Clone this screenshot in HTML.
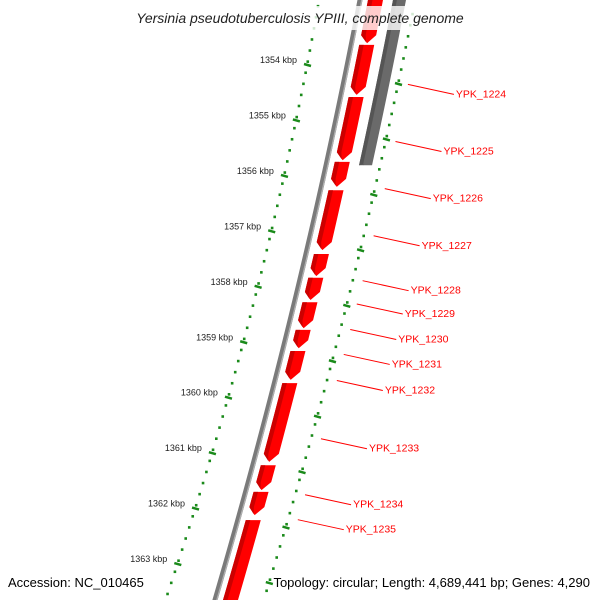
<!DOCTYPE html>
<html><head><meta charset="utf-8"><style>
html,body{margin:0;padding:0;background:#fff;}
svg{display:block;font-family:"Liberation Sans","DejaVu Sans",sans-serif;}
</style></head><body>
<svg id="map" width="600" height="600" viewBox="0 0 600 600">
<g id="ticks"></g>
<g id="backbone"></g>
<g id="genes"></g>
<g id="labels"></g>
<rect x="118" y="6" width="364" height="24" fill="#fff" fill-opacity="0.8"/>
<text x="300" y="23" text-anchor="middle" font-size="14" font-style="italic" fill="#222">Yersinia pseudotuberculosis YPIII, complete genome</text>
<text x="8" y="587" font-size="13" fill="#000">Accession: NC_010465</text>
<text x="590" y="587" font-size="13" fill="#000" text-anchor="end">Topology: circular; Length: 4,689,441 bp; Genes: 4,290</text>
</svg>
<script>
const kbpLabels = [1354,1355,1356,1357,1358,1359,1360,1361,1362,1363];
const fwdStarts = [1352.82,1353.81,1354.75,1355.92,1356.43,1357.58,1358.01,1358.45,1358.95,1359.33,1359.91,1361.39,1361.87,1362.38];
const fwdEnds   = [1353.78,1354.71,1355.89,1356.37,1357.51,1357.98,1358.41,1358.92,1359.28,1359.85,1361.33,1361.84,1362.29,1364.0];
const revStarts = [1352.64];
const revEnds   = [1355.98];
const geneNames = ["YPK_1224","YPK_1225","YPK_1226","YPK_1227","YPK_1228","YPK_1229","YPK_1230","YPK_1231","YPK_1232","YPK_1233","YPK_1234","YPK_1235"];
const geneLabelKbp = [1354.44,1355.47,1356.32,1357.17,1357.98,1358.40,1358.86,1359.31,1359.78,1360.83,1361.84,1362.29];

const NS="http://www.w3.org/2000/svg";
function mk(t,a,p){const e=document.createElementNS(NS,t);for(const k in a)e.setAttribute(k,a[k]);p.appendChild(e);return e;}
// axis functions
const yLabel = k => 60 + (k-1354)*55.45;
const yGene = k => (k-1353)*55.45;
const grayX = y => 360 - 0.1917*y - 8.33e-5*y*y;
const leftX = y => 307 - 0.1929*(y-65) - 1.342e-4*(y-65)*(y-65);
const rightX = y => 398 - 0.2125*(y-84) - 9.28e-5*(y-84)*(y-84);

const ticks=document.getElementById('ticks');
// dotted rings
for(let y=-5;y<=605;y+=11.09){
  const d=mk('rect',{x:leftX(y)-1.2,y:y-1.2,width:2.6,height:2.6,fill:'#1a8a1a'},ticks);
  
  
  if(y<592){const d2=mk('rect',{x:rightX(y+19)-1.2,y:y+19-1.2,width:2.6,height:2.6,fill:'#1a8a1a'},ticks);
  
  }
}
kbpLabels.forEach(k=>{
  const y=yLabel(k);
  const t=mk('line',{x1:leftX(y+5)-3,y1:y+4,x2:leftX(y+5)+4,y2:y+6,stroke:'#1a8a1a','stroke-width':2.5},ticks);
  
  
  const t2=mk('line',{x1:rightX(y+24)-3,y1:y+23,x2:rightX(y+24)+4,y2:y+25,stroke:'#1a8a1a','stroke-width':2.5},ticks);
  
  
  const tx=mk('text',{x:leftX(y+5)-10,y:y+3,'font-size':9,'text-anchor':'end',fill:'#222'},ticks);
  tx.textContent=k+' kbp';
  
  
});
// backbone
const bb=document.getElementById('backbone');
let pts=[];for(let y=-5;y<=605;y+=5)pts.push(grayX(y)+','+y);
const l1=mk('polyline',{points:pts.join(' '),fill:'none',stroke:'#7a7a7a','stroke-width':5},bb);


pts=[];for(let y=-5;y<=605;y+=5)pts.push((grayX(y)+1.8)+','+y);
mk('polyline',{points:pts.join(' '),fill:'none',stroke:'#b0b0b0','stroke-width':1.3},bb);

function gene(y0,y1,o1,o2,fill,dark,arrow,g,name){
  const grp=mk('g',{},g);
  
  
  const a=Math.min(arrow,(y1-y0)*0.5);
  const left=[],right=[];
  for(let y=y0;y<=y1-a;y+=4){left.push([grayX(y)+o1,y]);right.push([grayX(y)+o2,y]);}
  const yb=y1-a;left.push([grayX(yb)+o1,yb]);right.push([grayX(yb)+o2,yb]);
  const tip=[grayX(y1)+(o1+o2)/2,y1];
  const poly=left.concat([tip]).concat(right.reverse());
  mk('polygon',{points:poly.map(p=>p.join(',')).join(' '),fill:fill},grp);
  // dark shading on left third
  const sl=[],sr=[];
  for(let y=y0;y<=yb;y+=4){sl.push([grayX(y)+o1,y]);sr.push([grayX(y)+o1+(o2-o1)*0.3,y]);}
  sl.push([grayX(yb)+o1,yb]);sr.push([grayX(yb)+o1+(o2-o1)*0.3,yb]);
  mk('polygon',{points:sl.concat([[tip[0]-1,y1-1]]).concat(sr.reverse()).map(p=>p.join(',')).join(' '),fill:dark},grp);
}
const gg=document.getElementById('genes');
revStarts.forEach((s,i)=>gene(yGene(s),yGene(revEnds[i]),33,46,'#6a6a6a','#555',0,gg,'reverse-gene'));
fwdStarts.forEach((s,i)=>gene(yGene(s),yGene(fwdEnds[i]),8,23,'#ff0000','#cc0000',8,gg,'forward-gene'));
// labels
const lg=document.getElementById('labels');
geneNames.forEach((n,i)=>{
  const y=yLabel(geneLabelKbp[i]);
  const x0=rightX(y)+10;
  const l=mk('line',{x1:x0,y1:y,x2:x0+46,y2:y+10,stroke:'#ff0000','stroke-width':1},lg);
  
  
  const t=mk('text',{x:x0+48,y:y+13,'font-size':10.5,fill:'#ff0000'},lg);
  t.textContent=n;
  
  
});
</script>
</body></html>
